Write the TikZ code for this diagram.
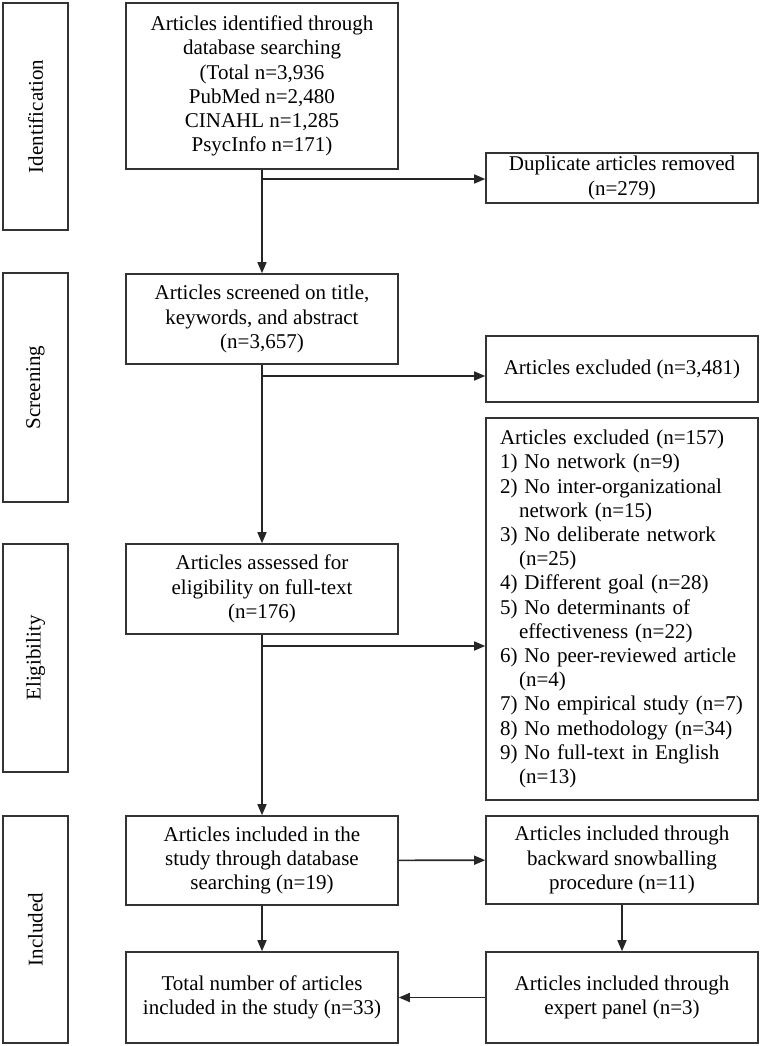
\documentclass[tikz,border=0pt]{standalone}
\usepackage{fontspec}
\setmainfont{Liberation Serif}
\usetikzlibrary{arrows.meta}
\newcommand\diafont{\rmfamily\fontsize{21}{24.2}\selectfont}
\tikzset{
  box/.style={draw=black!80, line width=1.6pt, minimum width=272pt, align=center, inner sep=0pt, font=\diafont, anchor=center},
  stage/.style={draw=black!80, line width=1.6pt, minimum height=65pt, rotate=90, inner sep=0pt, font=\diafont, anchor=center},
  arr/.style={line width=1.6pt, draw=black!85, -{Triangle[length=11pt,width=9pt]}},
}
\begin{document}
\begin{tikzpicture}[x=1pt,y=-1pt]
\useasboundingbox (0,0) rectangle (761,1046);
% stage boxes
\node[stage, minimum width=227pt] (ids) at (35.5,116.5) {Identification};
\node[stage, minimum width=229pt] (scr) at (35.5,387.5) {Screening};
\node[stage, minimum width=228pt] (eli) at (35.5,658) {Eligibility};
\node[stage, minimum width=227pt] (inc) at (35.5,929.5) {Included};
% main column
\node[box, minimum height=166pt] (A) at (262,86) {Articles identified through\\database searching\\(Total n=3,936\\PubMed n=2,480\\CINAHL n=1,285\\PsycInfo n=171)};
\node[box, minimum height=90pt] (B) at (262,319) {Articles screened on title,\\keywords, and abstract\\(n=3,657)};
\node[box, minimum height=90pt] (C) at (262,589) {Articles assessed for\\eligibility on full-text\\(n=176)};
\node[box, minimum height=89pt] (D) at (262,860.5) {Articles included in the\\study through database\\searching (n=19)};
\node[box, minimum height=91pt] (F) at (262,997.5) {Total number of articles\\included in the study (n=33)};
% right column
\node[box, minimum height=50pt] (dup) at (622,178) {Duplicate articles removed\\(n=279)};
\node[box, minimum height=66pt] (ex1) at (622,369) {Articles excluded (n=3,481)};
\node[box, minimum height=382pt, text width=244pt, inner xsep=14pt, align=left] (ex2) at (622,609) {Articles excluded (n=157)\\
1) No network (n=9)\\
2) No inter-organizational\\
\hspace*{19pt}network (n=15)\\
3) No deliberate network\\
\hspace*{19pt}(n=25)\\
4) Different goal (n=28)\\
5) No determinants of\\
\hspace*{19pt}effectiveness (n=22)\\
6) No peer-reviewed article\\
\hspace*{19pt}(n=4)\\
7) No empirical study (n=7)\\
8) No methodology (n=34)\\
9) No full-text in English\\
\hspace*{19pt}(n=13)};
\node[box, minimum height=88pt] (E) at (622,860) {Articles included through\\backward snowballing\\procedure (n=11)};
\node[box, minimum height=91pt] (G) at (622,997.5) {Articles included through\\expert panel (n=3)};
% connectors
\coordinate (b1) at (262,179);
\coordinate (b2) at (262,376);
\coordinate (b3) at (262,646);
\draw[arr] (A) -- (B);
\draw[arr] (b1) -- (b1 -| dup.west);
\draw[arr] (B) -- (C);
\draw[arr] (b2) -- (b2 -| ex1.west);
\draw[arr] (C) -- (D);
\draw[arr] (b3) -- (b3 -| ex2.west);
\draw[arr] (D) -- (E);
\draw[arr] (D) -- (F);
\draw[arr] (E) -- (G);
\draw[arr] (G) -- (F);
\end{tikzpicture}
\end{document}
